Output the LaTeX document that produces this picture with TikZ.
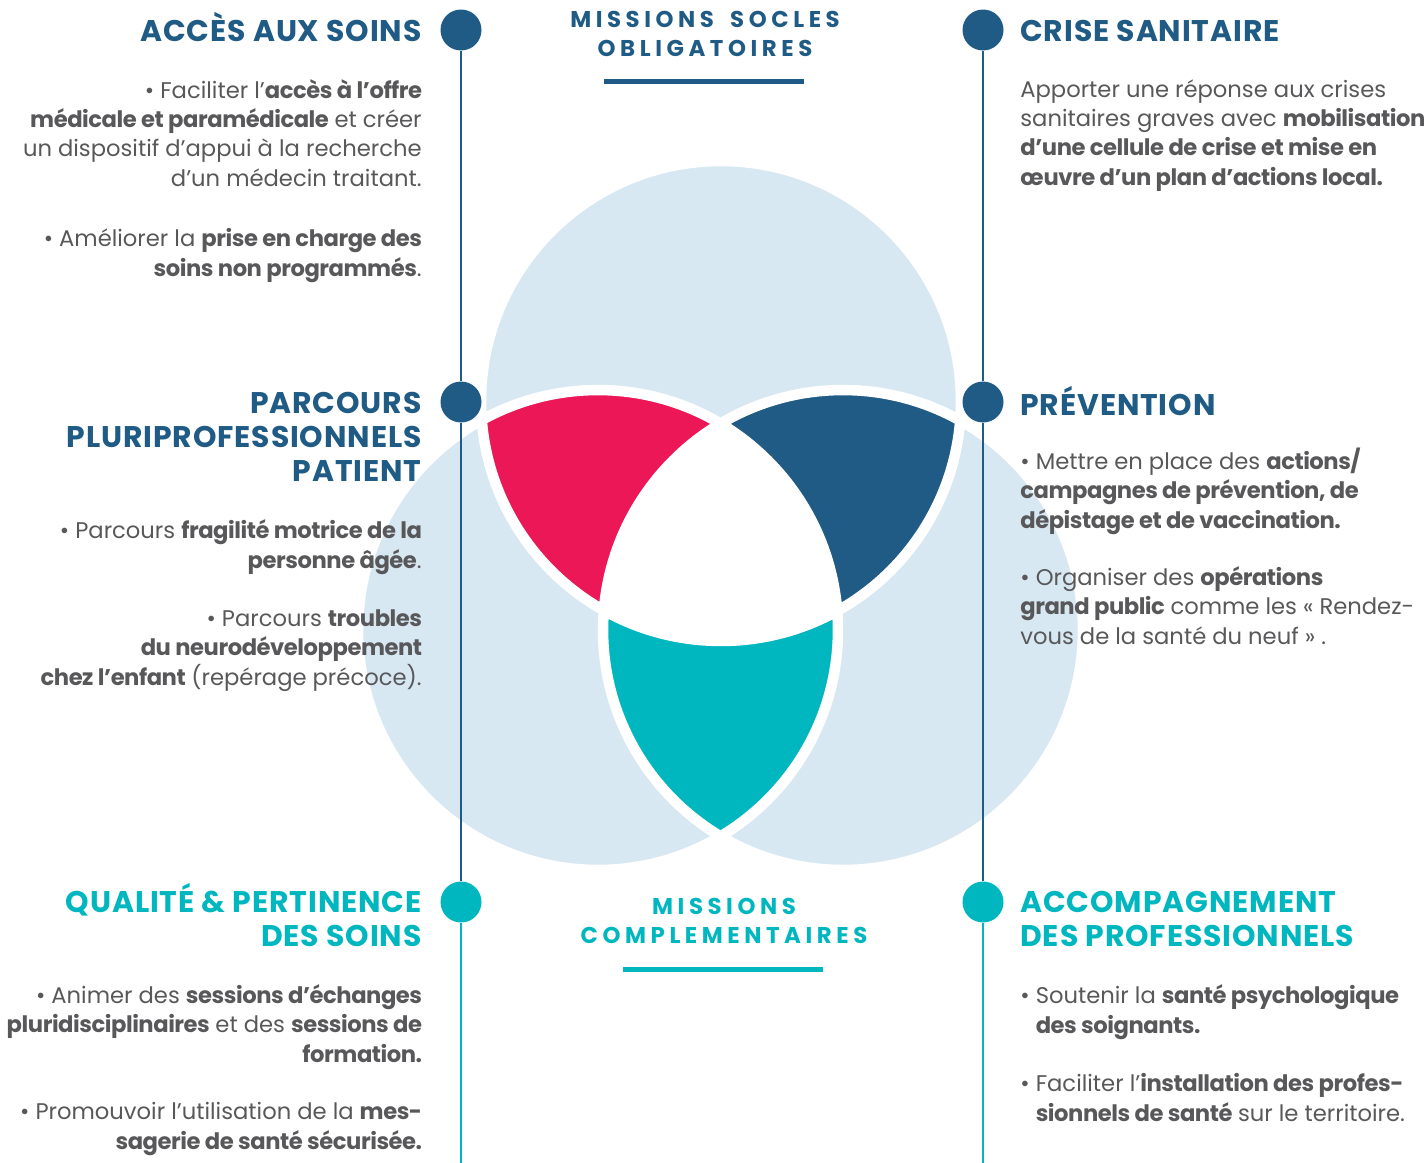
\documentclass[tikz,border=0pt]{standalone}
\usepackage{fontspec}
\setmainfont{Poppins}[BoldFeatures={LetterSpace=-2}]
\newfontfamily\missionfont[LetterSpace=20]{Poppins}
\newfontfamily\headfont[LetterSpace=3]{Poppins}
\usetikzlibrary{positioning}

\definecolor{navy}{HTML}{1F5B84}
\definecolor{aqua}{HTML}{00B7BF}
\definecolor{rose}{HTML}{EC1757}
\definecolor{paleblue}{HTML}{D7E8F2}
\definecolor{txtgray}{HTML}{58585A}

\tikzset{
  dot/.style={circle,inner sep=0pt,minimum size=0.82cm},
  stem/.style={line width=0.04cm},
  body/.style={inner sep=0pt,text=txtgray,font=\fontsize{12.9}{16.6}\selectfont},
  bodyleft/.style={body,anchor=base east,align=right},
  bodyright/.style={body,anchor=base west,align=left},
  head/.style={inner sep=0pt,font=\fontsize{17}{19.2}\headfont\bfseries},
  headleft/.style={head,anchor=base east,align=right},
  headright/.style={head,anchor=base west,align=left},
  mission/.style={inner sep=0pt,anchor=base,align=center,font=\fontsize{13}{16.5}\missionfont\bfseries},
  bar/.style={line width=0.1cm}
}

\begin{document}
\begin{tikzpicture}[x=0.02cm,y=-0.02cm]
\useasboundingbox (0,0) rectangle (1427,1163);

% the three circles
\coordinate (ctop) at (721,401);
\coordinate (cleft) at (598,630);
\coordinate (cright) at (843,630);
\def\rad{4.8cm}

\fill[paleblue] (ctop) circle (\rad) (cleft) circle (\rad) (cright) circle (\rad);
\begin{scope}
\clip (ctop) circle (\rad);
\fill[rose] (cleft) circle (\rad);
\end{scope}
\begin{scope}
\clip (ctop) circle (\rad);
\fill[navy] (cright) circle (\rad);
\end{scope}
\begin{scope}
\clip (cleft) circle (\rad);
\fill[aqua] (cright) circle (\rad);
\end{scope}
\begin{scope}
\clip (ctop) circle (\rad);
\clip (cleft) circle (\rad);
\fill[white] (cright) circle (\rad);
\end{scope}
\draw[white,line width=0.21cm] (ctop) circle (\rad) (cleft) circle (\rad) (cright) circle (\rad);

% left stem
\node[dot,fill=navy] (l1) at (461,30) {};
\node[dot,fill=navy] (l2) at (461,402) {};
\node[dot,fill=aqua] (l3) at (461,902) {};
\coordinate (lend) at (461,1163);
\draw[stem,navy] (l1) -- (l2);
\draw[stem,navy] (l2) -- (l3);
\draw[stem,aqua] (l3) -- (lend);

% right stem
\node[dot,fill=navy] (r1) at (983,30) {};
\node[dot,fill=navy] (r2) at (983,402) {};
\node[dot,fill=aqua] (r3) at (983,902) {};
\coordinate (rend) at (983,1163);
\draw[stem,navy] (r1) -- (r2);
\draw[stem,navy] (r2) -- (r3);
\draw[stem,aqua] (r3) -- (rend);

% mission titles (base = last line)
\node[mission,text=navy] (socle) at (705,56) {MISSIONS\hspace{0.3em} SOCLES\\OBLIGATOIRES};
\draw[bar,navy] (604,81) -- (804,81);
\node[mission,text=aqua] (compl) at (724,943) {MISSIONS\\COMPLEMENTAIRES};
\draw[bar,aqua] (623,969) -- (823,969);

% left column
\node[headleft,text=navy] (acces-h) at (422,41) {ACCÈS AUX SOINS};
\node[bodyleft] (acces-1) at (422,186) {\textbullet{} Faciliter l’\textbf{accès à l’offre}\\
  \textbf{médicale et paramédicale} et créer\\
  un dispositif d’appui à la recherche\\
  d’un médecin traitant.};
\node[bodyleft] (acces-2) at (422,276) {\textbullet{} Améliorer la \textbf{prise en charge des}\\
  \textbf{soins non programmés}.};

\node[headleft,text=navy] (parcours-h) at (422,481) {PARCOURS\\PLURIPROFESSIONNELS\\PATIENT};
\node[bodyleft] (parcours-1) at (422,568) {\textbullet{} Parcours \textbf{fragilité motrice de la}\\
  \textbf{personne âgée}.};
\node[bodyleft] (parcours-2) at (422,685) {\textbullet{} Parcours \textbf{troubles}\\
  \textbf{du neurodéveloppement}\\
  \textbf{chez l’enfant} (repérage précoce).};

\node[headleft,text=aqua] (qualite-h) at (422,946) {QUALITÉ \& PERTINENCE\\DES SOINS};
\node[bodyleft] (qualite-1) at (422,1062) {\textbullet{} Animer des \textbf{sessions d’échanges}\\
  \textbf{pluridisciplinaires} et des \textbf{sessions de}\\
  \textbf{formation.}};
\node[bodyleft] (qualite-2) at (422,1149) {\textbullet{} Promouvoir l’utilisation de la \textbf{mes-}\\
  \textbf{sagerie de santé sécurisée.}};

% right column
\node[headright,text=navy] (crise-h) at (1020,41) {CRISE SANITAIRE};
\node[bodyright] (crise-1) at (1020,185) {Apporter une réponse aux crises\\
  sanitaires graves avec \textbf{mobilisation}\\
  \textbf{d’une cellule de crise et mise en}\\
  \textbf{œuvre d’un plan d’actions local.}};

\node[headright,text=navy] (prev-h) at (1020,415) {PRÉVENTION};
\node[bodyright] (prev-1) at (1020,528) {\textbullet{} Mettre en place des \textbf{actions/}\\
  \textbf{campagnes de prévention, de}\\
  \textbf{dépistage et de vaccination.}};
\node[bodyright] (prev-2) at (1020,644) {\textbullet{} Organiser des \textbf{opérations}\\
  \textbf{grand public} comme les « Rendez-\\
  vous de la santé du neuf » .};

\node[headright,text=aqua] (accomp-h) at (1020,946) {ACCOMPAGNEMENT\\DES PROFESSIONNELS};
\node[bodyright] (accomp-1) at (1020,1033) {\textbullet{} Soutenir la \textbf{santé psychologique}\\
  \phantom{\textbullet{} }\textbf{des soignants.}};
\node[bodyright] (accomp-2) at (1020,1121) {\textbullet{} Faciliter l’\textbf{installation des profes-}\\
  \phantom{\textbullet{} }\textbf{sionnels de santé} sur le territoire.};
\end{tikzpicture}
\end{document}
